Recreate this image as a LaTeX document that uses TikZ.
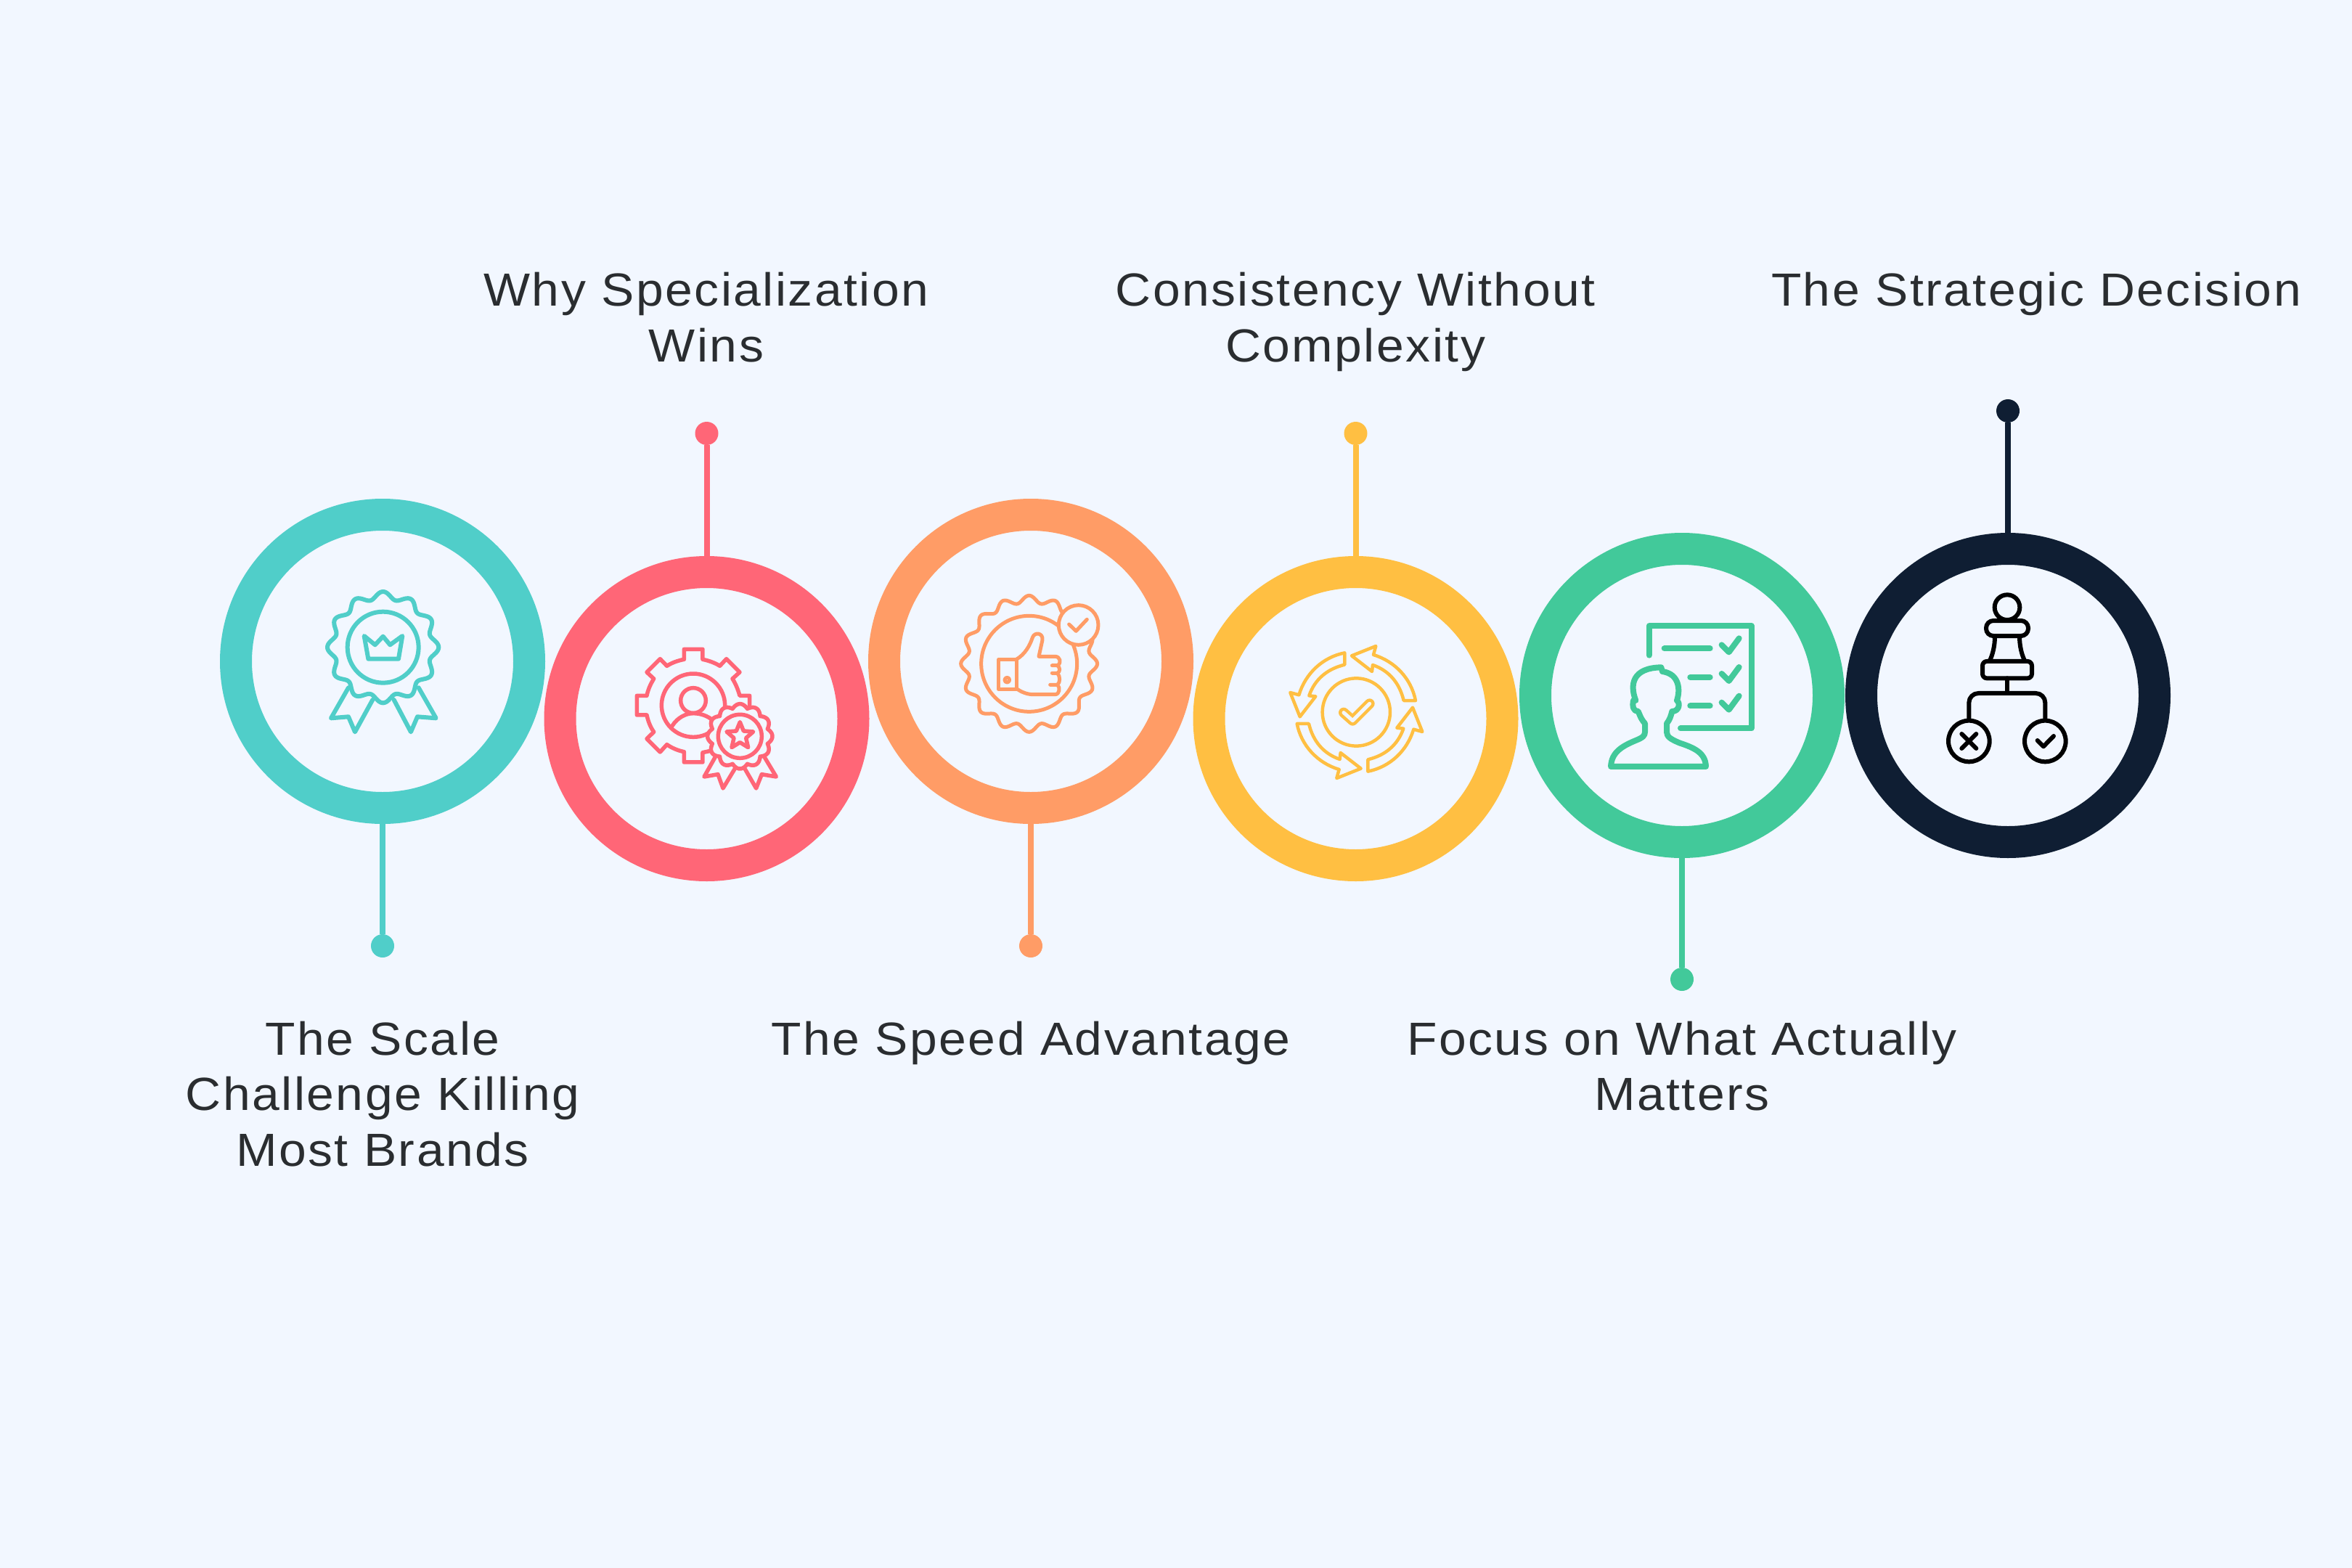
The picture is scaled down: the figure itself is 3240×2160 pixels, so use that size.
\documentclass[tikz,border=0pt]{standalone}
\usepackage{fontspec}
\newfontfamily\lblfont[FakeStretch=1.06,LetterSpace=3.9]{Liberation Sans}
\definecolor{bgc}{HTML}{F2F7FF}
\definecolor{ca}{HTML}{50CEC9}
\definecolor{cb}{HTML}{FF6677}
\definecolor{cc}{HTML}{FF9C66}
\definecolor{cd}{HTML}{FFBF42}
\definecolor{ce}{HTML}{42C99A}
\definecolor{cf}{HTML}{0F1E33}
\definecolor{txt}{HTML}{2A2D30}
\tikzset{
  ring/.style={circle,draw=#1,line width=44pt,minimum size=404pt,inner sep=0pt},
  pin/.style={circle,fill=#1,minimum size=32pt,inner sep=0pt,draw=none},
  conn/.style={draw=#1,line width=8pt},
  lbl/.style={font=\lblfont\fontsize{64}{76.5}\selectfont,text=txt,align=center,inner sep=0pt},
  ico/.style={draw=#1,line cap=round,line join=round},
}
\newcommand{\ls}{\rule[-22.95pt]{0pt}{76.5pt}}
\newcommand{\wavy}[6]{% options cx cy r amp n
  \draw[#1] plot[domain=0:360,samples=241] ({#2+(#4+#5*cos(#6*\x))*cos(\x)},{#3+(#4+#5*cos(#6*\x))*sin(\x)}) -- cycle;}
\begin{document}
\begin{tikzpicture}[x=1pt,y=-1pt]
\useasboundingbox (0,0) rectangle (3240,2160);
\fill[bgc] (0,0) rectangle (3240,2160);

\node[pin=ca] (dot1) at (527,1303) {};
\node[pin=cb] (dot2) at (973.5,597) {};
\node[pin=cc] (dot3) at (1420,1303) {};
\node[pin=cd] (dot4) at (1867.5,597) {};
\node[pin=ce] (dot5) at (2317,1349) {};
\node[pin=cf] (dot6) at (2766,566) {};

\node[ring=ca] (ring1) at (527,911) {};
\node[ring=cb] (ring2) at (973.5,990) {};
\node[ring=cc] (ring3) at (1420,911) {};
\node[ring=cd] (ring4) at (1867.5,990) {};
\node[ring=ce] (ring5) at (2317,958) {};
\node[ring=cf] (ring6) at (2766,958) {};

\draw[conn=ca] (ring1) -- (dot1);
\draw[conn=cb] (ring2) -- (dot2);
\draw[conn=cc] (ring3) -- (dot3);
\draw[conn=cd] (ring4) -- (dot4);
\draw[conn=ce] (ring5) -- (dot5);
\draw[conn=cf] (ring6) -- (dot6);

\node[lbl] (t1) at (527,1514.5) {\ls The Scale\\\ls Challenge Killing\\\ls Most Brands};
\node[lbl] (t2) at (973,444.65) {\ls Why Specialization\\\ls Wins};
\node[lbl] (t3) at (1420,1438) {\ls The Speed Advantage};
\node[lbl] (t4) at (1867,444.65) {\ls Consistency Without\\\ls Complexity};
\node[lbl] (t5) at (2317,1476.25) {\ls Focus on What Actually\\\ls Matters};
\node[lbl] (t6) at (2805,406.4) {\ls The Strategic Decision};

% icon 1
\begin{scope}[shift={(400,760)},x=0.3333pt,y=-0.3333pt]
 \tikzset{every path/.style={ico=ca,line width=6pt}}
 \draw (240,562) -- (168,688) -- (240,682) -- (267,745) -- (340,612);
 \draw (530,562) -- (602,688) -- (525,682) -- (498,745) -- (428,612);
 \wavy{ico=ca,line width=6pt,fill=bgc}{383}{395}{215}{15}{12}
 \draw (383,395) circle[radius=147];
 \draw (305,348) -- (350,385) -- (383,350) -- (412,385) -- (463,348) -- (447,443) -- (322,443) -- cycle;
\end{scope}

% icon 2
\begin{scope}[shift={(840,860)},x=0.3333pt,y=-0.3333pt]
 \tikzset{every path/.style={ico=cb,line width=5.5pt}}
 \draw (578,345) -- (578,295) -- (537,295) .. controls (530,270) and (520,245) .. (507,225) -- (537,198) -- (482,143) -- (455,172) .. controls (432,158) and (408,150) .. (384,145) -- (384,103) -- (307,103) -- (307,145) .. controls (282,150) and (258,158) .. (236,172) -- (208,143) -- (153,198) -- (182,225) .. controls (168,248) and (158,270) .. (153,295) -- (112,295) -- (112,375) -- (153,375) .. controls (158,400) and (168,425) .. (182,445) -- (153,473) -- (208,528) -- (236,497) .. controls (258,512) and (282,522) .. (307,527) -- (307,570) -- (384,570) -- (384,530) -- (430,520);
 \draw (345,335) circle[radius=131];
 \draw (345,315) circle[radius=52];
 \draw (258,420) .. controls (280,385) and (315,368) .. (345,368) .. controls (375,368) and (405,378) .. (430,400);
 \draw (435,550) -- (390,630) -- (447,620) -- (468,678) -- (515,600);
 \draw (640,550) -- (688,630) -- (628,620) -- (605,678) -- (560,600);
 \draw[fill=bgc] plot[domain=0:360,samples=361] ({538+(118+16*abs(cos(6*\x)))*cos(\x)},{463+(118+16*abs(cos(6*\x)))*sin(\x)}) -- cycle;
 \draw (538,463) circle[radius=90];
 \draw (538,404) -- (553,441) -- (593,444) -- (563,470) -- (572,509) -- (538,488) -- (504,509) -- (513,470) -- (483,444) -- (523,441) -- cycle;
\end{scope}

% icon 3
\begin{scope}[shift={(1290,790)},x=0.3333pt,y=-0.3333pt]
 \tikzset{every path/.style={ico=cc,line width=5pt}}
 \wavy{ico=cc,line width=5pt}{383}{373}{267}{15}{16}
 \draw (383,373) circle[radius=198];
 \draw[fill=bgc] (587,213) circle[radius=82];
 \draw (548,210) -- (577,238) -- (622,190);
 \draw (257,355) rectangle (330,478);
 \draw (292,440) circle[radius=10];
 \draw (330,355) .. controls (365,335) and (385,300) .. (397,265) .. controls (405,240) and (442,245) .. (438,275) -- (423,343) -- (490,343) .. controls (512,343) and (518,370) .. (500,380) -- (478,380);
 \draw (500,380) .. controls (512,390) and (512,405) .. (500,412) -- (478,412);
 \draw (500,412) .. controls (512,425) and (512,450) .. (500,460) -- (470,460);
 \draw (500,460) .. controls (512,470) and (510,500) .. (490,500) -- (400,500) .. controls (375,500) and (350,490) .. (330,475);
\end{scope}

% icon 4
\begin{scope}[shift={(1750,870)},x=0.3333pt,y=-0.3333pt]
 \tikzset{every path/.style={ico=cd,line width=4.5pt}}
 \draw (355,333) circle[radius=140];
 \draw[double=bgc,double distance=5pt,line width=4.5pt] (303,335) -- (340,368) -- (410,298);
 \foreach \a in {0,90,180,270}{
  \begin{scope}[rotate around={\a:(355,333)}]
   \draw (307,88) .. controls (216,106) and (145,173) .. (118,262) -- (82,252) -- (122,352) -- (187,268) -- (160,265) .. controls (184,196) and (236,154) .. (307,137) -- cycle;
  \end{scope}
 }
\end{scope}

% icon 5
\begin{scope}[shift={(2190,840)},x=0.3333pt,y=-0.3333pt]
 \tikzset{every path/.style={ico=ce,line width=8pt}}
 \draw (245,188) -- (245,67) -- (668,67) -- (668,490) -- (375,490);
 \draw (308,160) -- (497,160);
 \draw (415,279) -- (497,279);
 \draw (415,397) -- (497,397);
 \draw (545,145) -- (575,175) -- (617,118);
 \draw (545,264) -- (575,294) -- (617,237);
 \draw (545,383) -- (575,413) -- (617,356);
 \draw (87,648) .. controls (90,590) and (130,565) .. (190,540) .. controls (220,528) and (228,520) .. (228,505) -- (228,470) .. controls (210,450) and (205,430) .. (200,420) .. controls (180,420) and (175,400) .. (180,375) -- (190,375) .. controls (165,310) and (175,240) .. (295,238) -- (300,255) .. controls (370,265) and (375,330) .. (360,375) .. controls (375,385) and (370,420) .. (340,420) .. controls (335,440) and (330,455) .. (318,470) -- (318,505) .. controls (318,525) and (335,535) .. (370,550) .. controls (430,570) and (478,590) .. (480,648) -- cycle;
\end{scope}

% icon 6
\begin{scope}[shift={(2660,800)},x=0.3333pt,y=-0.3333pt]
 \tikzset{every path/.style={ico=black,line width=6pt}}
 \draw (315,110) circle[radius=52];
 \draw[rounded corners=10pt] (228,165) rectangle (402,228);
 \draw (264,230) .. controls (264,270) and (255,305) .. (243,330);
 \draw (366,230) .. controls (366,270) and (375,305) .. (387,330);
 \draw[rounded corners=6pt] (213,333) rectangle (417,403);
 \draw (315,403) -- (315,465);
 \draw[rounded corners=13pt] (157,575) -- (157,465) -- (472,465) -- (472,575);
 \draw (157,663) circle[radius=85];
 \draw (472,663) circle[radius=85];
 \draw (127,633) -- (187,693);
 \draw (187,633) -- (127,693);
 \draw (440,660) -- (465,685) -- (507,642);
\end{scope}
\end{tikzpicture}
\end{document}
